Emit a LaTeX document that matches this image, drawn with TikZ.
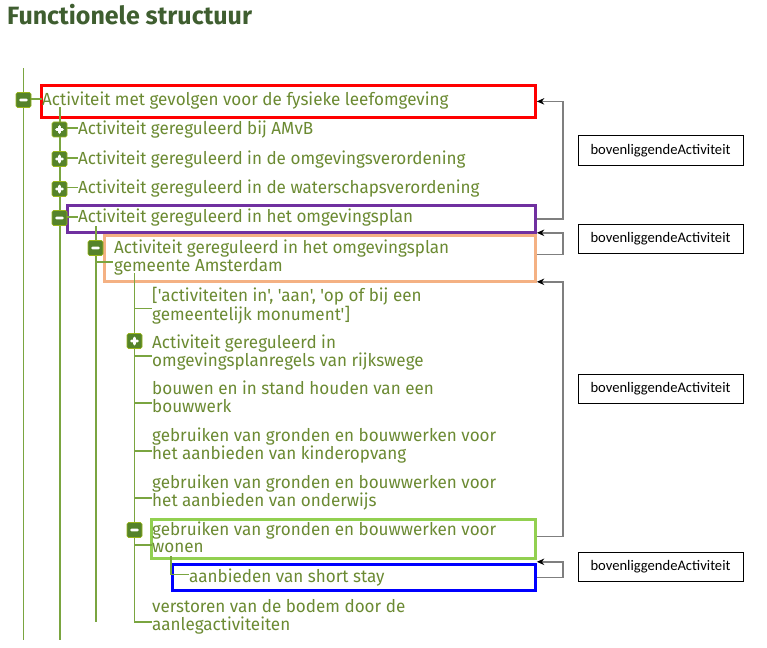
\documentclass[tikz,border=0pt]{standalone}
\usepackage{fontspec}
\setmainfont{Fira Sans}
\newfontfamily\treefont[Ligatures=TeXOff, FakeStretch=0.975]{Fira Sans}
\newfontfamily\titlefont{Fira Sans}
\newfontfamily\labfont{Carlito}
\usetikzlibrary{arrows.meta,calc}
\definecolor{titlegreen}{HTML}{3F5E30}
\definecolor{treetext}{HTML}{6B8A32}
\definecolor{treeline}{HTML}{7AA540}
\definecolor{iconfill}{HTML}{55832A}
\definecolor{hlred}{HTML}{FF0000}
\definecolor{hlpurple}{HTML}{7030A0}
\definecolor{hlorange}{HTML}{F4B183}
\definecolor{hlgreen}{HTML}{92D050}
\definecolor{hlblue}{HTML}{0000FF}
\definecolor{conngray}{HTML}{7F7F7F}
\newcommand{\twoline}[2]{\begin{tabular}[t]{@{}l@{}}#1\\#2\end{tabular}}
\tikzset{
  treelabel/.style={anchor=base west, inner sep=0pt, text=treetext,
    font=\treefont\fontsize{17.5}{17.5}\selectfont},
  tline/.style={draw=treeline, line width=1.3pt},
  iconbase/.style={rectangle, minimum size=15pt, inner sep=0pt, fill=iconfill,
    draw=iconfill!60!yellow, line width=0.6pt, rounded corners=1.5pt},
  minusicon/.style={iconbase, path picture={
    \fill[white] ($(path picture bounding box.center)+(-4.5pt,-1.4pt)$) rectangle ++(9pt,2.8pt);}},
  plusicon/.style={iconbase, path picture={
    \fill[white] ($(path picture bounding box.center)+(-4.5pt,-1.4pt)$) rectangle ++(9pt,2.8pt);
    \fill[white] ($(path picture bounding box.center)+(-1.4pt,-4.5pt)$) rectangle ++(2.8pt,9pt);}},
  hlbox/.style={rectangle, line width=2.8pt, inner sep=0pt, anchor=north west},
  conn/.style={draw=conngray, line width=1.5pt,
    arrows={-Stealth[black, length=7.5pt, width=6.5pt]}},
  labelbox/.style={rectangle, draw=black, line width=1pt, minimum width=165pt,
    minimum height=29pt, inner sep=0pt, font=\labfont\fontsize{14.6}{14.6}\selectfont},
}
\begin{document}
\begin{tikzpicture}[x=1pt, y=-1pt]
\useasboundingbox (0,0) rectangle (767,647);

% title
\node[anchor=base west, inner sep=0pt, text=titlegreen,
  font=\titlefont\bfseries\fontsize{25}{25}\selectfont] (title) at (7,25) {Functionele structuur};

% highlight boxes
\node[hlbox, draw=hlred, minimum width=494pt, minimum height=32pt] (rbox) at (40,84) {};
\node[hlbox, draw=hlpurple, minimum width=468pt, minimum height=27pt] (pbox) at (66,204) {};
\node[hlbox, draw=hlorange, minimum width=431pt, minimum height=46pt] (obox) at (103,234) {};
\node[hlbox, draw=hlgreen, minimum width=384pt, minimum height=39pt] (gbox) at (150,518) {};
\node[hlbox, draw=hlblue, minimum width=363pt, minimum height=26pt] (bbox) at (171,563) {};

% tree lines
\coordinate (l1top) at (23.5,68);  \coordinate (l1bot) at (23.5,640);
\coordinate (l2top) at (60,107);   \coordinate (l2bot) at (60,640);
\coordinate (l3top) at (96,226);   \coordinate (l3bot) at (96,622);
\coordinate (l4top) at (134.5,273);
\coordinate (l5top) at (171,556);
\draw[tline] (l1top) -- (l1bot);
\draw[tline] (l2top) -- (l2bot);
\draw[tline] (l3top) -- (l3bot);

% text nodes
\node[treelabel] (t0) at (42,106) {Activiteit met gevolgen voor de fysieke leefomgeving};
\node[treelabel] (t1) at (78,135) {Activiteit gereguleerd bij AMvB};
\node[treelabel] (t2) at (78,164.5) {Activiteit gereguleerd in de omgevingsverordening};
\node[treelabel] (t3) at (78,193.5) {Activiteit gereguleerd in de waterschapsverordening};
\node[treelabel] (t4) at (78,222.5) {Activiteit gereguleerd in het omgevingsplan};
\node[treelabel] (t5) at (114,253) {\twoline{Activiteit gereguleerd in het omgevingsplan}{gemeente Amsterdam}};
\node[treelabel] (t6) at (152,301) {\twoline{['activiteiten in', 'aan', 'op of bij een}{gemeentelijk monument']}};
\node[treelabel] (t7) at (152,348) {\twoline{Activiteit gereguleerd in}{omgevingsplanregels van rijkswege}};
\node[treelabel] (t8) at (152,394) {\twoline{bouwen en in stand houden van een}{bouwwerk}};
\node[treelabel] (t9) at (152,441) {\twoline{gebruiken van gronden en bouwwerken voor}{het aanbieden van kinderopvang}};
\node[treelabel] (t10) at (152,488) {\twoline{gebruiken van gronden en bouwwerken voor}{het aanbieden van onderwijs}};
\node[treelabel] (t11) at (152,535) {\twoline{gebruiken van gronden en bouwwerken voor}{wonen}};
\node[treelabel] (t12) at (189,582) {aanbieden van short stay};
\node[treelabel] (t13) at (152,612) {\twoline{verstoren van de bodem door de}{aanlegactiviteiten}};

% stubs
\draw[tline] (23.5,99) -- (t0.base west |- 0,99);
\foreach \n/\yy in {t1/128,t2/158,t3/187.5,t4/217} \draw[tline] (60,\yy) -- (\n.base west |- 0,\yy);
\draw[tline] (96,262) -- (113,262);
\draw[tline] (l4top) -- (134.5,622) -- (t13.base west |- 0,622);
\foreach \n/\yy in {t6/308.5,t7/356,t8/403,t9/451,t10/498,t11/545} \draw[tline] (134.5,\yy) -- (\n.base west |- 0,\yy);
\draw[tline] (l5top) -- (171,574.5) -- (t12.base west |- 0,574.5);

% icons
\node[minusicon] (i0) at (23.5,100) {};
\node[plusicon] (i1) at (59.5,129.5) {};
\node[plusicon] (i2) at (59.5,159) {};
\node[plusicon] (i3) at (59.5,189) {};
\node[minusicon] (i4) at (59.5,218) {};
\node[minusicon] (i5) at (95.5,248) {};
\node[plusicon] (i7) at (134.5,341) {};
\node[minusicon] (i11) at (134.5,530) {};

% connectors
\draw[conn] (pbox.east) -- ++(26,0) |- (rbox.east);
\draw[conn] ($(obox.east)+(0,-4)$) -- ++(26,0) |- ($(pbox.south east)+(0,-1)$);
\draw[conn] ($(gbox.east)+(0,-2.5)$) -- ++(26,0) |- ($(obox.south east)+(0,-1)$);
\draw[conn] (bbox.east) -- ++(26,0) |- ($(gbox.south east)+(0,2)$);

% labels
\node[labelbox] (lab1) at (660.5,150.5) {bovenliggendeActiviteit};
\node[labelbox] (lab2) at (660.5,239) {bovenliggendeActiviteit};
\node[labelbox] (lab3) at (660.5,388.5) {bovenliggendeActiviteit};
\node[labelbox] (lab4) at (660.5,566.5) {bovenliggendeActiviteit};
\end{tikzpicture}
\end{document}
